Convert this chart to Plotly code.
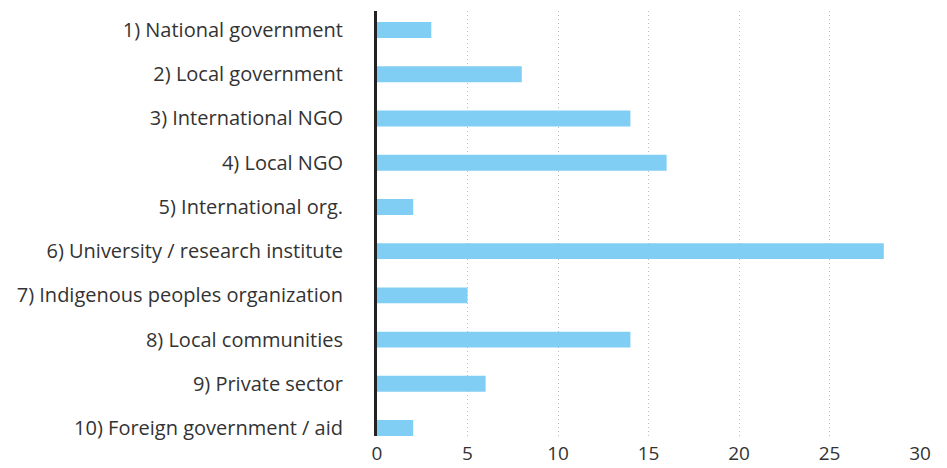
import plotly.graph_objects as go

categories = [
    "1) National government",
    "2) Local government",
    "3) International NGO",
    "4) Local NGO",
    "5) International org.",
    "6) University / research institute",
    "7) Indigenous peoples organization",
    "8) Local communities",
    "9) Private sector",
    "10) Foreign government / aid",
]
values = [3, 8, 14, 16, 2, 28, 5, 14, 6, 2]
x_ticks = [0, 5, 10, 15, 20, 25, 30]

fig = go.Figure(
    go.Bar(
        x=values,
        y=categories,
        orientation="h",
        marker=dict(color="#80CEF3", line=dict(width=0)),
        width=0.36,
        hoverinfo="x+y",
    )
)

fig.update_layout(
    width=947,
    height=468,
    margin=dict(l=377, r=27, t=11, b=32),
    paper_bgcolor="white",
    plot_bgcolor="white",
    showlegend=False,
    font=dict(family="'Open Sans', Lato, sans-serif", size=20, color="#333333"),
)

fig.update_xaxes(
    range=[0, 30],
    tickvals=x_ticks,
    ticktext=[str(v) for v in x_ticks],
    showgrid=True,
    gridcolor="#bdbdbd",
    griddash="1px,3px",
    gridwidth=1,
    zeroline=False,
    showline=False,
    ticks="",
    ticklabelstandoff=4,
    automargin=False,
    tickfont=dict(size=19, color="#333333"),
)

fig.update_yaxes(
    type="category",
    categoryorder="array",
    categoryarray=categories,
    range=[9.18, -0.43],
    showgrid=False,
    zeroline=False,
    showline=True,
    linecolor="#222222",
    linewidth=3,
    ticks="",
    ticklabelstandoff=27,
    automargin=False,
    tickfont=dict(size=20, color="#333333"),
)

fig.write_html(
    "out.html",
    config={"displayModeBar": False},
    post_script="document.body.style.margin='0';document.body.style.padding='0';",
)
